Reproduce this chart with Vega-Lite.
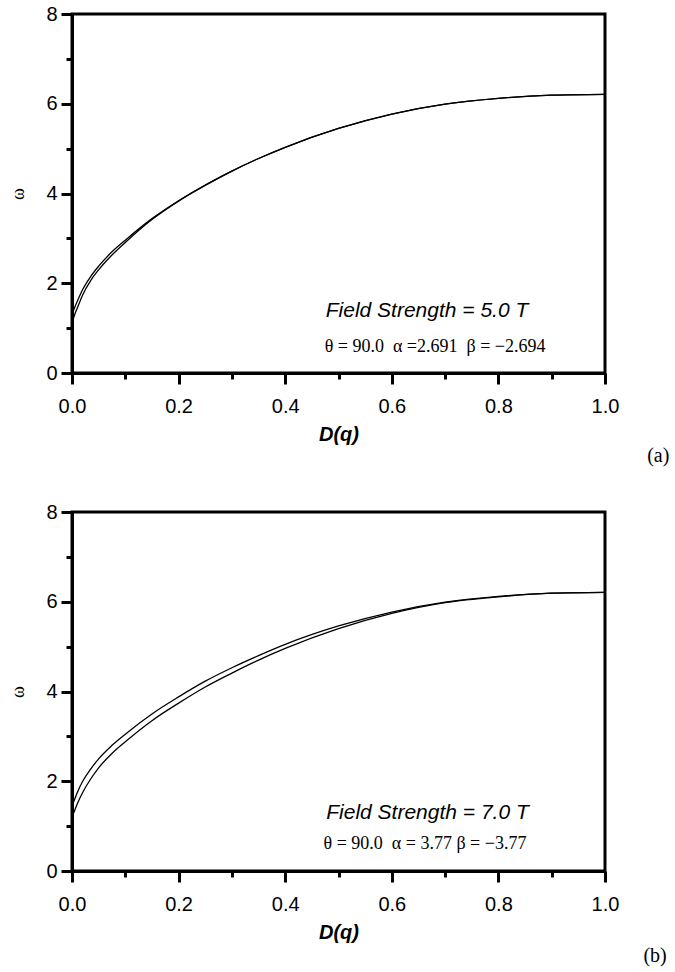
{
  "$schema": "https://vega.github.io/schema/vega-lite/v6.json",
  "background": "white",
  "padding": {"top": 2, "left": 8, "right": 5, "bottom": 5},
  "spacing": 32,
  "datasets": {
    "curves": [
      {"panel": "a", "curve": "upper", "D": 0, "w": 1.30},
      {"panel": "a", "curve": "upper", "D": 0.005, "w": 1.46},
      {"panel": "a", "curve": "upper", "D": 0.01, "w": 1.60},
      {"panel": "a", "curve": "upper", "D": 0.02, "w": 1.86},
      {"panel": "a", "curve": "upper", "D": 0.035, "w": 2.15},
      {"panel": "a", "curve": "upper", "D": 0.05, "w": 2.38},
      {"panel": "a", "curve": "upper", "D": 0.075, "w": 2.70},
      {"panel": "a", "curve": "upper", "D": 0.1, "w": 2.96},
      {"panel": "a", "curve": "upper", "D": 0.15, "w": 3.44},
      {"panel": "a", "curve": "upper", "D": 0.2, "w": 3.84},
      {"panel": "a", "curve": "upper", "D": 0.25, "w": 4.19},
      {"panel": "a", "curve": "upper", "D": 0.3, "w": 4.50},
      {"panel": "a", "curve": "upper", "D": 0.35, "w": 4.78},
      {"panel": "a", "curve": "upper", "D": 0.4, "w": 5.03},
      {"panel": "a", "curve": "upper", "D": 0.5, "w": 5.45},
      {"panel": "a", "curve": "upper", "D": 0.6, "w": 5.77},
      {"panel": "a", "curve": "upper", "D": 0.7, "w": 5.99},
      {"panel": "a", "curve": "upper", "D": 0.8, "w": 6.12},
      {"panel": "a", "curve": "upper", "D": 0.9, "w": 6.19},
      {"panel": "a", "curve": "upper", "D": 1.0, "w": 6.21},
      {"panel": "a", "curve": "lower", "D": 0, "w": 1.12},
      {"panel": "a", "curve": "lower", "D": 0.005, "w": 1.30},
      {"panel": "a", "curve": "lower", "D": 0.01, "w": 1.45},
      {"panel": "a", "curve": "lower", "D": 0.02, "w": 1.74},
      {"panel": "a", "curve": "lower", "D": 0.035, "w": 2.06},
      {"panel": "a", "curve": "lower", "D": 0.05, "w": 2.30},
      {"panel": "a", "curve": "lower", "D": 0.075, "w": 2.63},
      {"panel": "a", "curve": "lower", "D": 0.1, "w": 2.91},
      {"panel": "a", "curve": "lower", "D": 0.15, "w": 3.42},
      {"panel": "a", "curve": "lower", "D": 0.2, "w": 3.83},
      {"panel": "a", "curve": "lower", "D": 0.25, "w": 4.18},
      {"panel": "a", "curve": "lower", "D": 0.3, "w": 4.50},
      {"panel": "a", "curve": "lower", "D": 0.35, "w": 4.78},
      {"panel": "a", "curve": "lower", "D": 0.4, "w": 5.03},
      {"panel": "a", "curve": "lower", "D": 0.5, "w": 5.45},
      {"panel": "a", "curve": "lower", "D": 0.6, "w": 5.77},
      {"panel": "a", "curve": "lower", "D": 0.7, "w": 5.99},
      {"panel": "a", "curve": "lower", "D": 0.8, "w": 6.12},
      {"panel": "a", "curve": "lower", "D": 0.9, "w": 6.19},
      {"panel": "a", "curve": "lower", "D": 1.0, "w": 6.21},
      {"panel": "b", "curve": "upper", "D": 0, "w": 1.45},
      {"panel": "b", "curve": "upper", "D": 0.005, "w": 1.60},
      {"panel": "b", "curve": "upper", "D": 0.01, "w": 1.75},
      {"panel": "b", "curve": "upper", "D": 0.02, "w": 2.00},
      {"panel": "b", "curve": "upper", "D": 0.035, "w": 2.27},
      {"panel": "b", "curve": "upper", "D": 0.05, "w": 2.50},
      {"panel": "b", "curve": "upper", "D": 0.075, "w": 2.80},
      {"panel": "b", "curve": "upper", "D": 0.1, "w": 3.05},
      {"panel": "b", "curve": "upper", "D": 0.15, "w": 3.50},
      {"panel": "b", "curve": "upper", "D": 0.2, "w": 3.88},
      {"panel": "b", "curve": "upper", "D": 0.25, "w": 4.23},
      {"panel": "b", "curve": "upper", "D": 0.3, "w": 4.53},
      {"panel": "b", "curve": "upper", "D": 0.35, "w": 4.80},
      {"panel": "b", "curve": "upper", "D": 0.4, "w": 5.05},
      {"panel": "b", "curve": "upper", "D": 0.5, "w": 5.46},
      {"panel": "b", "curve": "upper", "D": 0.6, "w": 5.77},
      {"panel": "b", "curve": "upper", "D": 0.7, "w": 5.99},
      {"panel": "b", "curve": "upper", "D": 0.8, "w": 6.12},
      {"panel": "b", "curve": "upper", "D": 0.9, "w": 6.19},
      {"panel": "b", "curve": "upper", "D": 1.0, "w": 6.21},
      {"panel": "b", "curve": "lower", "D": 0, "w": 1.20},
      {"panel": "b", "curve": "lower", "D": 0.005, "w": 1.35},
      {"panel": "b", "curve": "lower", "D": 0.01, "w": 1.50},
      {"panel": "b", "curve": "lower", "D": 0.02, "w": 1.75},
      {"panel": "b", "curve": "lower", "D": 0.035, "w": 2.05},
      {"panel": "b", "curve": "lower", "D": 0.05, "w": 2.30},
      {"panel": "b", "curve": "lower", "D": 0.075, "w": 2.62},
      {"panel": "b", "curve": "lower", "D": 0.1, "w": 2.88},
      {"panel": "b", "curve": "lower", "D": 0.15, "w": 3.35},
      {"panel": "b", "curve": "lower", "D": 0.2, "w": 3.74},
      {"panel": "b", "curve": "lower", "D": 0.25, "w": 4.10},
      {"panel": "b", "curve": "lower", "D": 0.3, "w": 4.41},
      {"panel": "b", "curve": "lower", "D": 0.35, "w": 4.70},
      {"panel": "b", "curve": "lower", "D": 0.4, "w": 4.96},
      {"panel": "b", "curve": "lower", "D": 0.5, "w": 5.40},
      {"panel": "b", "curve": "lower", "D": 0.6, "w": 5.74},
      {"panel": "b", "curve": "lower", "D": 0.7, "w": 5.98},
      {"panel": "b", "curve": "lower", "D": 0.8, "w": 6.11},
      {"panel": "b", "curve": "lower", "D": 0.9, "w": 6.19},
      {"panel": "b", "curve": "lower", "D": 1.0, "w": 6.21}
    ],
    "notes": [
      {"panel": "a", "kind": "field", "D": 0.476, "w": 1.39, "label": "Field Strength = 5.0 T"},
      {"panel": "a", "kind": "params", "D": 0.474, "w": 0.59, "label": "θ = 90.0\u00a0\u00a0α =2.691\u00a0\u00a0β = −2.694"},
      {"panel": "a", "kind": "tag", "D": 1.10, "w": -1.85, "label": "(a)"},
      {"panel": "b", "kind": "field", "D": 0.477, "w": 1.30, "label": "Field Strength = 7.0 T"},
      {"panel": "b", "kind": "params", "D": 0.472, "w": 0.60, "label": "θ = 90.0\u00a0\u00a0α = 3.77 β = −3.77"},
      {"panel": "b", "kind": "tag", "D": 1.094, "w": -1.89, "label": "(b)"}
    ]
  },
  "vconcat": [
    {
      "width": 533,
      "height": 359,
      "layer": [
        {
          "data": {"name": "curves"},
          "transform": [{"filter": "datum.panel === 'a'"}],
          "mark": {"type": "line", "color": "black", "strokeWidth": 1.3, "interpolate": "monotone"},
          "encoding": {
            "x": {"field": "D", "type": "quantitative", "scale": {"domain": [0, 1], "nice": false},
              "axis": {"title": "D(q)", "values": [0,0.1,0.2,0.3,0.4,0.5,0.6,0.7,0.8,0.9,1.0],
                "labelExpr": "round(datum.value*10) % 2 === 0 ? format(datum.value, '.1f') : ''",
                "tickSize": {"condition": {"test": "round(datum.value*10) % 2 !== 0", "value": 6}, "value": 11}}},
            "y": {"field": "w", "type": "quantitative", "scale": {"domain": [0, 8], "nice": false},
              "axis": {"title": "ω", "values": [0,1,2,3,4,5,6,7,8],
                "labelExpr": "datum.value % 2 === 0 ? datum.label : ''",
                "tickSize": {"condition": {"test": "datum.value % 2 !== 0", "value": 6}, "value": 11}}},
            "detail": {"field": "curve"}
          }
        },
        {
          "data": {"name": "notes"},
          "transform": [{"filter": "datum.panel === 'a' && datum.kind === 'field'"}],
          "mark": {"type": "text", "align": "left", "baseline": "middle", "font": "Liberation Sans", "fontStyle": "italic", "fontSize": 21, "color": "black"},
          "encoding": {"x": {"field": "D", "type": "quantitative"}, "y": {"field": "w", "type": "quantitative"}, "text": {"field": "label"}}
        },
        {
          "data": {"name": "notes"},
          "transform": [{"filter": "datum.panel === 'a' && datum.kind === 'params'"}],
          "mark": {"type": "text", "align": "left", "baseline": "middle", "font": "Liberation Serif", "fontSize": 18, "color": "black"},
          "encoding": {"x": {"field": "D", "type": "quantitative"}, "y": {"field": "w", "type": "quantitative"}, "text": {"field": "label"}}
        },
        {
          "data": {"name": "notes"},
          "transform": [{"filter": "datum.panel === 'a' && datum.kind === 'tag'"}],
          "mark": {"type": "text", "align": "center", "baseline": "middle", "font": "Liberation Serif", "fontSize": 20, "color": "black"},
          "encoding": {"x": {"field": "D", "type": "quantitative"}, "y": {"field": "w", "type": "quantitative"}, "text": {"field": "label"}}
        }
      ]
    },
    {
      "width": 533,
      "height": 359,
      "layer": [
        {
          "data": {"name": "curves"},
          "transform": [{"filter": "datum.panel === 'b'"}],
          "mark": {"type": "line", "color": "black", "strokeWidth": 1.3, "interpolate": "monotone"},
          "encoding": {
            "x": {"field": "D", "type": "quantitative", "scale": {"domain": [0, 1], "nice": false},
              "axis": {"title": "D(q)", "values": [0,0.1,0.2,0.3,0.4,0.5,0.6,0.7,0.8,0.9,1.0],
                "labelExpr": "round(datum.value*10) % 2 === 0 ? format(datum.value, '.1f') : ''",
                "tickSize": {"condition": {"test": "round(datum.value*10) % 2 !== 0", "value": 6}, "value": 11}}},
            "y": {"field": "w", "type": "quantitative", "scale": {"domain": [0, 8], "nice": false},
              "axis": {"title": "ω", "values": [0,1,2,3,4,5,6,7,8],
                "labelExpr": "datum.value % 2 === 0 ? datum.label : ''",
                "tickSize": {"condition": {"test": "datum.value % 2 !== 0", "value": 6}, "value": 11}}},
            "detail": {"field": "curve"}
          }
        },
        {
          "data": {"name": "notes"},
          "transform": [{"filter": "datum.panel === 'b' && datum.kind === 'field'"}],
          "mark": {"type": "text", "align": "left", "baseline": "middle", "font": "Liberation Sans", "fontStyle": "italic", "fontSize": 21, "color": "black"},
          "encoding": {"x": {"field": "D", "type": "quantitative"}, "y": {"field": "w", "type": "quantitative"}, "text": {"field": "label"}}
        },
        {
          "data": {"name": "notes"},
          "transform": [{"filter": "datum.panel === 'b' && datum.kind === 'params'"}],
          "mark": {"type": "text", "align": "left", "baseline": "middle", "font": "Liberation Serif", "fontSize": 18, "color": "black"},
          "encoding": {"x": {"field": "D", "type": "quantitative"}, "y": {"field": "w", "type": "quantitative"}, "text": {"field": "label"}}
        },
        {
          "data": {"name": "notes"},
          "transform": [{"filter": "datum.panel === 'b' && datum.kind === 'tag'"}],
          "mark": {"type": "text", "align": "center", "baseline": "middle", "font": "Liberation Serif", "fontSize": 20, "color": "black"},
          "encoding": {"x": {"field": "D", "type": "quantitative"}, "y": {"field": "w", "type": "quantitative"}, "text": {"field": "label"}}
        }
      ]
    }
  ],
  "config": {
    "view": {"stroke": "black", "strokeWidth": 3},
    "axis": {
      "grid": false,
      "domainColor": "black",
      "domainWidth": 3,
      "tickColor": "black",
      "tickWidth": 3,
      "labelFont": "Liberation Sans",
      "labelFontSize": 20,
      "labelColor": "black",
      "labelFlush": false,
      "labelOverlap": false,
      "titleColor": "black"
    },
    "axisX": {
      "labelPadding": 12,
      "titleFont": "Liberation Sans",
      "titleFontSize": 20,
      "titleFontStyle": "italic",
      "titleFontWeight": "bold",
      "titlePadding": 8
    },
    "axisY": {
      "labelPadding": 4,
      "titleFont": "Liberation Serif",
      "titleFontSize": 18,
      "titleFontWeight": "normal",
      "titlePadding": 18
    }
  }
}
